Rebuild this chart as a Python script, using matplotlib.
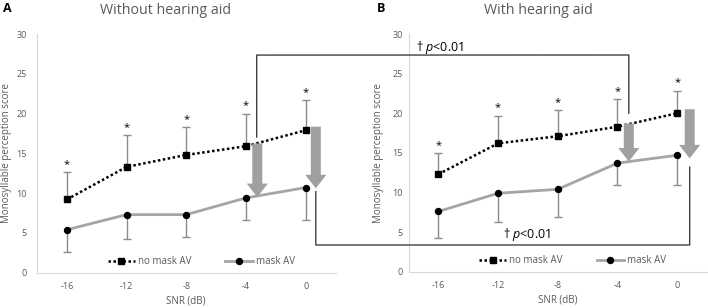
import numpy as np
import matplotlib
matplotlib.use('Agg')
import matplotlib.pyplot as plt
from matplotlib.lines import Line2D

plt.rcParams['font.family'] = ['Open Sans', 'DejaVu Sans']
plt.rcParams['mathtext.fontset'] = 'custom'
plt.rcParams['mathtext.it'] = 'Open Sans:italic'
plt.rcParams['mathtext.rm'] = 'Open Sans'

snr = ['-16', '-12', '-8', '-4', '0']
ticks_y = [0, 5, 10, 15, 20, 25, 30]

# panel A: without hearing aid
a_nomask = [9.2, 13.3, 14.8, 15.9, 17.9]
a_nomask_sd = [3.45, 3.95, 3.5, 4.1, 3.8]
a_mask = [5.4, 7.3, 7.3, 9.4, 10.7]
a_mask_sd = [2.8, 3.1, 2.85, 2.8, 4.1]

# panel B: with hearing aid
b_nomask = [12.3, 16.2, 17.1, 18.3, 20.0]
b_nomask_sd = [2.7, 3.5, 3.3, 3.5, 2.85]
b_mask = [7.6, 9.9, 10.4, 13.7, 14.7]
b_mask_sd = [3.3, 3.6, 3.55, 2.7, 3.7]

W, H = 708, 308
fig = plt.figure(figsize=(W/100, H/100), dpi=100)

txt_gray = '#595959'
err_gray = '#8c8c8c'
line_gray = '#a5a5a5'
arrow_gray = '#a0a0a0'

def px(x0, y0, x1, y1):
    return [x0/W, 1 - y1/H, (x1 - x0)/W, (y1 - y0)/H]

def panel(rect, nomask, nomask_sd, mask, mask_sd, title, tx, letter, lx, ypad, ylx):
    ax = fig.add_axes(rect)
    x = np.arange(len(snr))
    nm = np.array(nomask); nms = np.array(nomask_sd)
    m = np.array(mask); ms = np.array(mask_sd)
    # error bars, one side only
    ax.vlines(x, nm, nm + nms, color=err_gray, lw=1, zorder=2)
    ax.plot(x, nm + nms, ls='none', marker='_', ms=6, mew=1, color=err_gray, zorder=2)
    ax.vlines(x, m - ms, m, color=err_gray, lw=1, zorder=2)
    ax.plot(x, m - ms, ls='none', marker='_', ms=6, mew=1, color=err_gray, zorder=2)
    ax.plot(x, nm, color='black', lw=1.8, ls=(0, (1, 1)), marker='s', ms=4.6,
            label='no mask AV', zorder=4)
    ax.plot(x, m, color=line_gray, lw=2, marker='o', ms=4.3, mfc='black', mec='black',
            label='mask AV', zorder=3)
    for xi, yi in zip(x, nm + nms):
        ax.annotate('*', (xi, yi), xytext=(0, 1.5), textcoords='offset points',
                    ha='center', va='bottom', fontsize=8, color='black')
    ax.set_xlim(-0.5, 4.5)
    ax.set_ylim(0, 30)
    ax.set_xticks(x)
    ax.set_xticklabels(snr)
    ax.set_yticks(ticks_y)
    for s in ['top', 'right']:
        ax.spines[s].set_visible(False)
    for s in ['left', 'bottom']:
        ax.spines[s].set_color('#d9d9d9')
        ax.spines[s].set_linewidth(0.8)
    ax.tick_params(axis='both', length=0, labelsize=6.5, colors=txt_gray)
    ax.tick_params(axis='y', pad=ypad)
    ax.tick_params(axis='x', pad=7)
    ax.set_xlabel('SNR (dB)', fontsize=7, color=txt_gray, labelpad=3)
    fig.text(ylx/W, 1 - 153/H, 'Monosyllable perception score', rotation=90,
             fontsize=7, color=txt_gray, ha='center', va='center')
    fig.text(tx/W, 1 - 10/H, title, fontsize=10.3, color=txt_gray, ha='center', va='center')
    fig.text(lx/W, 1 - 8/H, letter, fontsize=9, fontweight='bold', ha='left', va='center')
    ax.legend(loc='center', bbox_to_anchor=(0.55, 0.047), ncol=2, frameon=False,
              fontsize=7, handlelength=2.8, columnspacing=3.5, handletextpad=0.3,
              labelcolor=txt_gray)
    return ax

axA = panel(px(37, 34, 335.5, 272.7), a_nomask, a_nomask_sd, a_mask, a_mask_sd,
            'Without hearing aid', 166, 'A', 3, 7.5, 7)
axB = panel(px(408.5, 34, 707, 271.7), b_nomask, b_nomask_sd, b_mask, b_mask_sd,
            'With hearing aid', 538, 'B', 377, 4, 378)

def arrow(ax, x, y0, y1):
    ax.annotate('', xy=(x, y1), xytext=(x, y0), annotation_clip=False,
                arrowprops=dict(arrowstyle='simple,tail_width=1,head_width=2.1,head_length=1.35',
                                mutation_scale=7.2, color=arrow_gray, shrinkA=0, shrinkB=0,
                                lw=0), zorder=5)

arrow(axA, 3.19, 16.25, 9.5)
arrow(axA, 4.17, 18.35, 10.6)
arrow(axB, 3.19, 18.7, 13.9)
arrow(axB, 4.21, 20.5, 14.3)

def to_fig(ax, x, y):
    d = ax.transData.transform((x, y))
    return fig.transFigure.inverted().transform(d)

def bracket(pts):
    xs, ys = zip(*[to_fig(a, x, y) for a, x, y in pts])
    fig.add_artist(Line2D(xs, ys, color='#404040', lw=1, transform=fig.transFigure))

bracket([(axA, 3.18, 17.05), (axA, 3.18, 27.35), (axB, 3.19, 27.35), (axB, 3.19, 20.0)])
bracket([(axA, 4.17, 10.18), (axA, 4.17, 3.48), (axB, 4.21, 3.37), (axB, 4.21, 13.2)])

axB.text(-0.38, 28.3, r'† $p$<0.01', fontsize=9, ha='left', va='center')
axB.text(1.08, 4.7, r'† $p$<0.01', fontsize=9, ha='left', va='center')

fig.savefig('out.png', dpi=100)
